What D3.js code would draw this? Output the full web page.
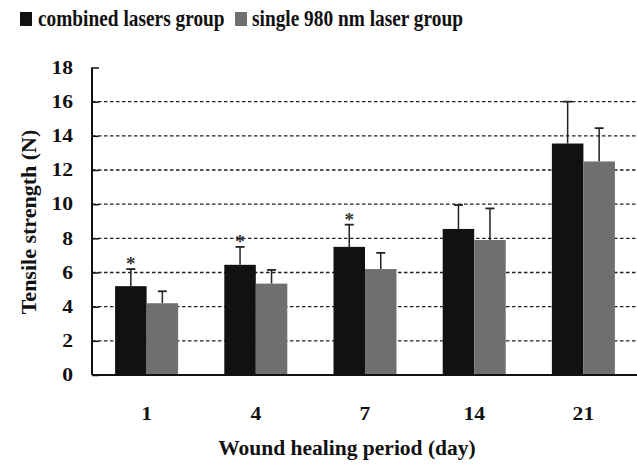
<!DOCTYPE html>
<html><head><meta charset="utf-8">
<script src="https://cdn.jsdelivr.net/npm/d3@7"></script>
<style>body{margin:0;background:#fff}svg{display:block}</style>
</head><body>
<script>
const categories = ["1","4","7","14","21"];
const seriesNames = ["combined lasers group","single 980 nm laser group"];
const combined = [5.2, 6.45, 7.5, 8.55, 13.55];
const combinedErr = [1.0, 1.05, 1.3, 1.4, 2.45];
const single = [4.2, 5.35, 6.2, 7.9, 12.5];
const singleErr = [0.7, 0.8, 0.95, 1.85, 1.95];
const significant = [true, true, true, false, false];
const yTicks = [0,2,4,6,8,10,12,14,16,18];
const colors = ["#111111","#6f6f6f"];

const FONT = "'Liberation Serif', 'Times New Roman', Times, serif";
const W=637,H=470;
const svg=d3.select("body").append("svg").attr("width",W).attr("height",H);
const x0=92, x1=638, yBase=375, yTop=67.5;
const x=d3.scaleBand().domain(categories).range([x0,x1]).paddingInner(0.423).paddingOuter(0.2115);
const xs=d3.scaleBand().domain([0,1]).range([0,x.bandwidth()]);
const y=d3.scaleLinear().domain([0,18]).range([yBase,yTop]);

function txt(sel){return sel.style("font-family",FONT).style("font-weight","bold");}

// gridlines
svg.append("g").selectAll("line").data(yTicks.filter(t=>t>0&&t<18)).join("line")
 .attr("x1",x0).attr("x2",W).attr("y1",d=>y(d)).attr("y2",d=>y(d))
 .attr("stroke","#222").attr("stroke-width",1.3).attr("stroke-dasharray","3.5,2.5");

// y axis
const ya=svg.append("g").attr("transform",`translate(${x0},0)`)
 .call(d3.axisLeft(y).tickValues(yTicks).tickSize(-7).tickPadding(19).tickFormat(d3.format("d")));
ya.select(".domain").remove();
ya.selectAll(".tick line").attr("stroke","#111").attr("stroke-width",1.5);
txt(ya.selectAll(".tick text")).style("font-size","18px").attr("fill","#111")
 .attr("x",0).attr("transform","translate(-19,0) scale(1.2,1)");
svg.append("line").attr("x1",x0).attr("x2",x0).attr("y1",yTop).attr("y2",yBase).attr("stroke","#111").attr("stroke-width",2);

// bars
const data=categories.map((c,i)=>({c,vals:[{s:0,v:combined[i],e:combinedErr[i]},{s:1,v:single[i],e:singleErr[i]}],sig:significant[i]}));
const g=svg.append("g").selectAll("g").data(data).join("g").attr("transform",d=>`translate(${x(d.c)},0)`);
g.selectAll("line.err").data(d=>d.vals).join("line").attr("class","err")
 .attr("x1",d=>xs(d.s)+xs.bandwidth()/2).attr("x2",d=>xs(d.s)+xs.bandwidth()/2)
 .attr("y1",d=>y(d.v)).attr("y2",d=>y(d.v+d.e)).attr("stroke","#222").attr("stroke-width",1.5);
g.selectAll("line.cap").data(d=>d.vals).join("line").attr("class","cap")
 .attr("x1",d=>xs(d.s)+xs.bandwidth()/2-4.5).attr("x2",d=>xs(d.s)+xs.bandwidth()/2+4.5)
 .attr("y1",d=>y(d.v+d.e)).attr("y2",d=>y(d.v+d.e)).attr("stroke","#222").attr("stroke-width",1.8);
g.selectAll("rect").data(d=>d.vals).join("rect")
 .attr("x",d=>xs(d.s)).attr("width",xs.bandwidth()).attr("y",d=>y(d.v)).attr("height",d=>yBase-y(d.v))
 .attr("fill",d=>colors[d.s]);
txt(g.filter(d=>d.sig).append("text").attr("x",xs(0)+xs.bandwidth()/2)
 .attr("y",d=>y(d.vals[0].v+d.vals[0].e)+1).attr("text-anchor","middle").style("font-size","19px").attr("fill","#333").text("*"));

// baseline
svg.append("line").attr("x1",x0).attr("x2",W).attr("y1",yBase).attr("y2",yBase).attr("stroke","#111").attr("stroke-width",2.2);

// x labels
txt(svg.append("g").selectAll("text").data(categories).join("text")
 .attr("transform",d=>`translate(${x(d)+x.bandwidth()/2},420) scale(1.2,1)`).attr("text-anchor","middle").style("font-size","18px").attr("fill","#111").text(d=>d));

// titles
txt(svg.append("text").attr("x",347).attr("y",455).attr("text-anchor","middle").style("font-size","21.5px").attr("fill","#111").text("Wound healing period (day)"));
txt(svg.append("text").attr("transform","translate(35.5,222) rotate(-90)").attr("text-anchor","middle").style("font-size","22px").attr("fill","#111").text("Tensile strength (N)"));

// legend
const lg=[{x:20,tx:38},{x:235,tx:252}];
seriesNames.forEach((n,i)=>{
 svg.append("rect").attr("x",lg[i].x).attr("y",12).attr("width",12).attr("height",14).attr("fill",colors[i]);
 txt(svg.append("text").attr("transform",`translate(${lg[i].tx},25.5) scale(0.86,1)`).style("font-size","22.5px").attr("fill","#111").text(n));
});
</script>
</body></html>
